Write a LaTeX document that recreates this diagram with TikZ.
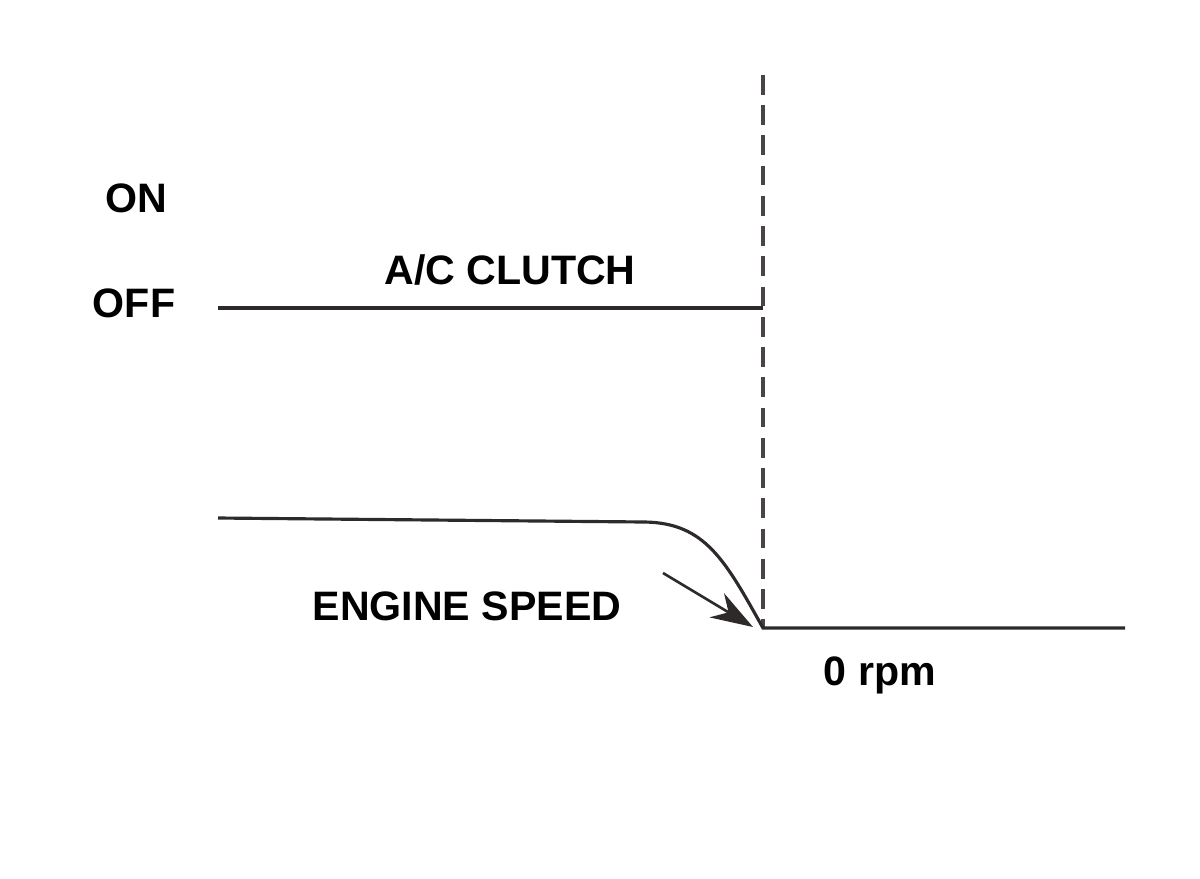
\documentclass[tikz,border=0pt]{standalone}
\usepackage{fontspec}
\setmainfont{Liberation Sans}
\usepackage{tikz}
\usetikzlibrary{arrows.meta, calc, positioning}
\definecolor{trace}{HTML}{2E2A2A}
\definecolor{guide}{HTML}{4A4545}
\tikzset{
    lbl/.style={font=\fontsize{11.7pt}{13pt}\selectfont\bfseries, inner sep=0pt},
    signal/.style={draw=trace, line width=0.9pt},
}

\begin{document}
\begin{tikzpicture}[x=0.01cm, y=-0.01cm]
                        \useasboundingbox (0, 0) rectangle (1200, 878);
                        \node[lbl] (on) at (136, 198) {ON};
                        \node[lbl] (off) at (134, 303) {OFF};
                        \node[lbl] (clutch) at (510, 270) {A/C CLUTCH};
                        \node[lbl] (speed) at (467, 606) {ENGINE SPEED};
                        \node[lbl] (rpm) at (880, 675) {0 rpm};
                        \coordinate (top) at (763, 75);
                        \coordinate (cstart) at (218, 308);
                        \coordinate (cend) at (763, 308);
                        \coordinate (sstart) at (218, 518);
                        \coordinate (knee) at (645, 522);
                        \coordinate (zero) at (763, 628);
                        \coordinate (send) at (1125, 628);
                        \coordinate (tail) at (663, 573);
                        \draw[guide, line width=1pt, dash pattern=on 5.6pt off 3pt] (top) -- (zero);
                        \draw[signal] (cstart) -- (cend);
                        \draw[signal] (sstart) -- (knee) .. controls (705, 523) and (725, 560) .. (zero) -- (send);
                        \draw[trace, line width=0.75pt, -{Stealth[length=12pt, width=8pt]}] (tail) -- (753, 627);
                    \end{tikzpicture}
\end{document}
